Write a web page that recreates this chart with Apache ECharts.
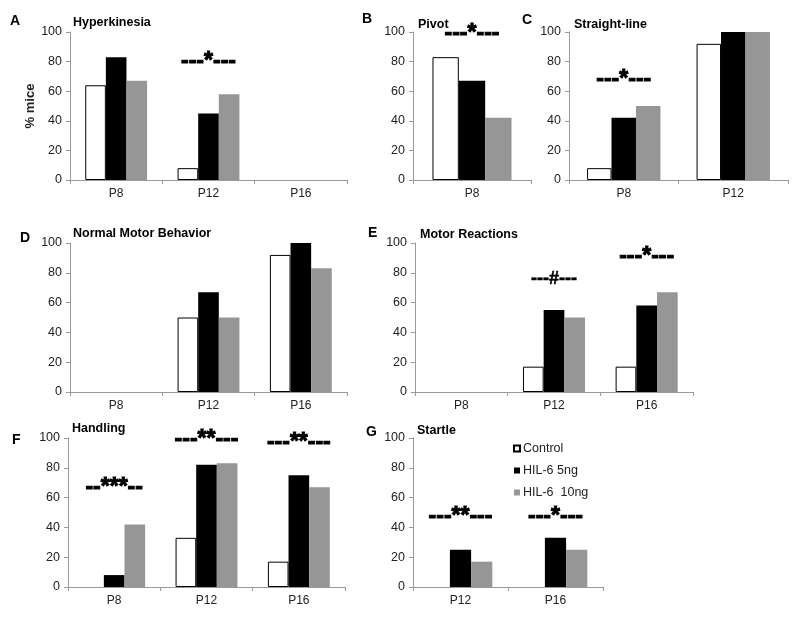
<!DOCTYPE html>
<html>
<head>
<meta charset="utf-8">
<script src="https://cdn.jsdelivr.net/npm/echarts@6/dist/echarts.min.js"></script>
<style>
html,body{margin:0;padding:0;background:#fff;}
#chart{width:800px;height:617px;}
</style>
</head>
<body>
<div id="chart"></div>
<script>
// ---- Data ----
const seriesNames = ['Control', 'HIL-6 5ng', 'HIL-6  10ng'];

const hyperCats = ['P8', 'P12', 'P16'];
const hyperControl = [64, 8, 0];
const hyper5ng = [83, 45, 0];
const hyper10ng = [67, 58, 0];

const pivotCats = ['P8'];
const pivotControl = [83];
const pivot5ng = [67];
const pivot10ng = [42];

const straightCats = ['P8', 'P12'];
const straightControl = [8, 92];
const straight5ng = [42, 100];
const straight10ng = [50, 100];

const normalCats = ['P8', 'P12', 'P16'];
const normalControl = [0, 50, 92];
const normal5ng = [0, 67, 100];
const normal10ng = [0, 50, 83];

const motorCats = ['P8', 'P12', 'P16'];
const motorControl = [0, 17, 17];
const motor5ng = [0, 55, 58];
const motor10ng = [0, 50, 67];

const handlingCats = ['P8', 'P12', 'P16'];
const handlingControl = [0, 33, 17];
const handling5ng = [8, 82, 75];
const handling10ng = [42, 83, 67];

const startleCats = ['P12', 'P16'];
const startleControl = [0, 0];
const startle5ng = [25, 33];
const startle10ng = [17, 25];

const yTicks = [0, 20, 40, 60, 80, 100];

// significance markers: [category, value, text]
const sigHyper = [['P12', 80, '---*---']];
const sigPivot = [['P8', 99, '---*---']];
const sigStraight = [['P8', 68, '---*---']];
const sigNormal = [];
const sigMotor = [['P12', 76, '---#---'], ['P16', 91, '---*---']];
const sigHandling = [['P8', 67, '--***--'], ['P12', 99, '---**---'], ['P16', 97, '---**---']];
const sigStartle = [['P12', 47, '---**---'], ['P16', 47, '---*---']];

// ---- Layout ----
const panels = [
  {letter:'A', title:'Hyperkinesia', cats:hyperCats, d:[hyperControl,hyper5ng,hyper10ng], sig:sigHyper,
   grid:{left:70, top:32, width:277, height:148}, letterPos:[10,14], titlePos:[73,16], yName:'% mice'},
  {letter:'B', title:'Pivot', cats:pivotCats, d:[pivotControl,pivot5ng,pivot10ng], sig:sigPivot,
   grid:{left:413, top:32, width:118, height:148}, letterPos:[362,12], titlePos:[418,18]},
  {letter:'C', title:'Straight-line', cats:straightCats, d:[straightControl,straight5ng,straight10ng], sig:sigStraight,
   grid:{left:569, top:32, width:219, height:148}, letterPos:[522,13], titlePos:[574,18]},
  {letter:'D', title:'Normal Motor Behavior', cats:normalCats, d:[normalControl,normal5ng,normal10ng], sig:sigNormal,
   grid:{left:70, top:243, width:277, height:149}, letterPos:[20,231], titlePos:[73,227]},
  {letter:'E', title:'Motor Reactions', cats:motorCats, d:[motorControl,motor5ng,motor10ng], sig:sigMotor,
   grid:{left:415, top:243, width:278, height:149}, letterPos:[368,226], titlePos:[420,228]},
  {letter:'F', title:'Handling', cats:handlingCats, d:[handlingControl,handling5ng,handling10ng], sig:sigHandling,
   grid:{left:68, top:438, width:277, height:149}, letterPos:[12,433], titlePos:[72,422]},
  {letter:'G', title:'Startle', cats:startleCats, d:[startleControl,startle5ng,startle10ng], sig:sigStartle,
   grid:{left:413, top:438, width:190, height:149}, letterPos:[366,425], titlePos:[417,424]}
];

const styles = [
  {color:'#ffffff', borderColor:'#000000', borderWidth:1},
  {color:'#000000'},
  {color:'#969696'}
];

const axisColor = '#9a9a9a';
const labelColor = '#222';
const fontFamily = 'Liberation Sans, Arial, sans-serif';

const grids = [], xAxes = [], yAxes = [], series = [], titles = [];
panels.forEach((p, i) => {
  grids.push(Object.assign({containLabel:false}, p.grid));
  xAxes.push({
    type:'category', gridIndex:i, data:p.cats,
    axisLine:{show:true, lineStyle:{color:axisColor, width:1}},
    axisTick:{show:true, length:4, lineStyle:{color:axisColor}},
    axisLabel:{color:labelColor, fontSize:12, fontFamily:fontFamily, margin:8}
  });
  const ya = {
    type:'value', gridIndex:i, min:yTicks[0], max:yTicks[yTicks.length-1], interval:yTicks[1]-yTicks[0],
    axisLine:{show:true, lineStyle:{color:axisColor, width:1}},
    axisTick:{show:true, length:4, lineStyle:{color:axisColor}},
    splitLine:{show:false},
    axisLabel:{color:labelColor, fontSize:12.5, fontFamily:fontFamily, margin:8}
  };
  if (p.yName) {
    ya.name = p.yName;
    ya.nameLocation = 'middle';
    ya.nameGap = 33;
    ya.nameRotate = 90;
    ya.nameTextStyle = {color:labelColor, fontSize:13, fontWeight:'bold', fontFamily:fontFamily};
  }
  yAxes.push(ya);
  p.d.forEach((vals, k) => {
    const s = {
      type:'bar', name:seriesNames[k], xAxisIndex:i, yAxisIndex:i,
      data:vals.map(v => v === 0 ? {value:v, itemStyle:{borderWidth:0, opacity:0}} : v),
      barGap:'0%', barCategoryGap:'33%',
      itemStyle:styles[k], silent:true, animation:false
    };
    if (k === 1 && p.sig.length) {
      s.markPoint = {
        symbol:'circle', symbolSize:0, silent:true, animation:false,
        data:p.sig.map(sg => ({
          coord:[sg[0], sg[1]],
          label:{show:true, position:'inside', formatter:sg[2], color:'#000',
                 fontSize:sg[2].indexOf('#') >= 0 ? 18 : 23, fontWeight:'bold', fontFamily:fontFamily,
                 textBorderColor:'#000', textBorderWidth:sg[2].indexOf('#') >= 0 ? 0.5 : 1}
        }))
      };
    }
    series.push(s);
  });
  titles.push({text:p.letter, left:p.letterPos[0], top:p.letterPos[1], padding:0,
    textStyle:{fontSize:14, fontWeight:'bold', color:'#000', fontFamily:fontFamily}});
  titles.push({text:p.title, left:p.titlePos[0], top:p.titlePos[1], padding:0,
    textStyle:{fontSize:12.5, fontWeight:'bold', color:'#000', fontFamily:fontFamily}});
});

const chart = echarts.init(document.getElementById('chart'), null, {renderer:'canvas'});
chart.setOption({
  animation:false,
  backgroundColor:'#ffffff',
  title:titles,
  legend:{
    data:seriesNames.map(n => ({name:n, icon:'rect'})), orient:'vertical', left:513, top:442,
    itemWidth:6, itemHeight:6, itemGap:9, padding:0,
    selectedMode:false,
    textStyle:{color:labelColor, fontSize:12.5, fontFamily:fontFamily, padding:[0,0,0,-2]}
  },
  grid:grids, xAxis:xAxes, yAxis:yAxes, series:series
});
</script>
</body>
</html>
